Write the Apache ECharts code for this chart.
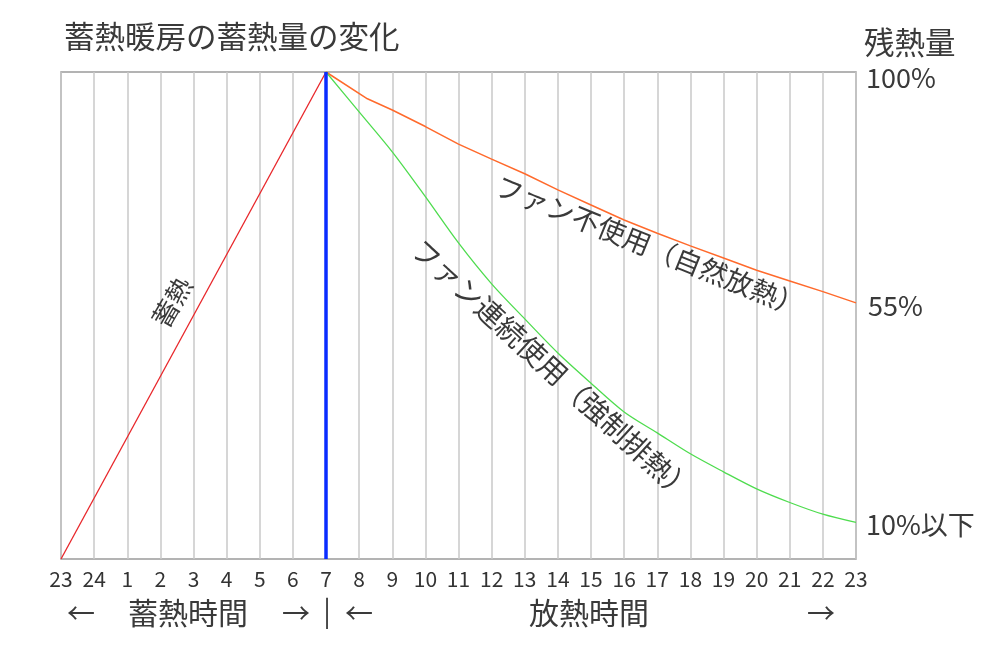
<!DOCTYPE html>
<html>
<head>
<meta charset="utf-8">
<script src="https://cdn.jsdelivr.net/npm/echarts@6/dist/echarts.min.js"></script>
<style>
html,body{margin:0;padding:0;background:#fff;}
#chart{width:1000px;height:654px;}
</style>
</head>
<body>
<div id="chart"></div>
<script>
// Tick labels (hours), position index 0..24
const hourLabels = ['23','24','1','2','3','4','5','6','7','8','9','10','11','12','13','14','15','16','17','18','19','20','21','22','23'];

// Charging (蓄熱): 23h -> 7h, 0% -> 100%
const chargeX = [0, 8];
const chargeY = [0, 100];

// Switch-over marker at 7h
const switchX = [8, 8];
const switchY = [0, 100];

// Fan off (natural release)
const fanOffX = [8, 9.25, 10, 11, 12, 13, 14, 15, 16, 17, 18, 19, 20, 21, 22, 23, 24];
const fanOffY = [100, 94.5, 92.2, 88.8, 85.2, 82.1, 79.1, 75.8, 72.7, 69.6, 66.9, 64.3, 61.8, 59.3, 57.1, 54.9, 52.6];

// Fan continuous (forced release)
const fanOnX = [8, 9, 10, 11, 12, 13, 14, 15, 16, 17, 18, 19, 20, 21, 22, 23, 24];
const fanOnY = [100, 91.8, 83.6, 74.4, 64.9, 56.5, 49.3, 42.3, 36.1, 30.2, 25.9, 21.6, 17.9, 14.4, 11.6, 9.2, 7.5];

const pairs = (xs, ys) => xs.map((x, i) => [x, ys[i]]);

const JP = '"Noto Sans CJK JP", "Noto Sans", sans-serif';
const txt = (x, y, text, size, align, rot) => ({
  type: 'text', x: x, y: y, rotation: rot || 0, z: 100,
  style: { text: text, font: size + 'px ' + JP, fill: '#3a3a3a', textAlign: align || 'left', textVerticalAlign: 'middle' }
});

const chart = echarts.init(document.getElementById('chart'), null, { renderer: 'canvas' });
chart.setOption({
  animation: false,
  backgroundColor: '#ffffff',
  grid: { left: 61, right: 144, top: 72, bottom: 95, show: true, borderColor: '#9a9a9a', borderWidth: 1.5, backgroundColor: 'transparent' },
  xAxis: {
    type: 'value', min: 0, max: 24, interval: 1,
    axisLine: { show: false }, axisTick: { show: false },
    axisLabel: { show: true, margin: 10, fontSize: 21, color: '#333', fontFamily: JP,
      formatter: v => hourLabels[Math.round(v)] },
    splitLine: { show: true, lineStyle: { color: '#c8c8c8', width: 1.5 } }
  },
  yAxis: {
    type: 'value', min: 0, max: 100,
    axisLine: { show: false }, axisTick: { show: false }, axisLabel: { show: false },
    splitLine: { show: false }
  },
  series: [
    { type: 'line', data: pairs(chargeX, chargeY), showSymbol: false, lineStyle: { color: '#e8262a', width: 1.3 }, z: 3 },
    { type: 'line', data: pairs(fanOffX, fanOffY), showSymbol: false, lineStyle: { color: '#ff6a2c', width: 1.5 }, z: 3 },
    { type: 'line', data: pairs(fanOnX, fanOnY), showSymbol: false, smooth: 0.3, lineStyle: { color: '#4fdc4f', width: 1.3 }, z: 3 },
    { type: 'line', data: pairs(switchX, switchY), showSymbol: false, lineStyle: { color: '#0a2cff', width: 3.5 }, z: 4 }
  ],
  graphic: [
    txt(64, 36, '蓄熱暖房の蓄熱量の変化', 30.5, 'left'),
    txt(864, 42, '残熱量', 30.5, 'left'),
    txt(866, 78, '100%', 27, 'left'),
    txt(868, 306, '55%', 27, 'left'),
    txt(866, 525, '10%以下', 27, 'left'),
    txt(172, 302, '蓄熱', 26, 'center', 60 * Math.PI / 180),
    txt(650, 246, 'ファン不使用（自然放熱）', 27.5, 'center', -22 * Math.PI / 180),
    txt(553, 370, 'ファン連続使用（強制排熱）', 28.5, 'center', -42.5 * Math.PI / 180),
    txt(81, 613, '←', 28, 'center'),
    txt(188, 613, '蓄熱時間', 30, 'center'),
    txt(296, 613, '→', 28, 'center'),
    txt(327, 610, '|', 28, 'center'),
    txt(359, 613, '←', 28, 'center'),
    txt(589, 613, '放熱時間', 30, 'center'),
    txt(821, 613, '→', 28, 'center')
  ]
});
</script>
</body>
</html>
